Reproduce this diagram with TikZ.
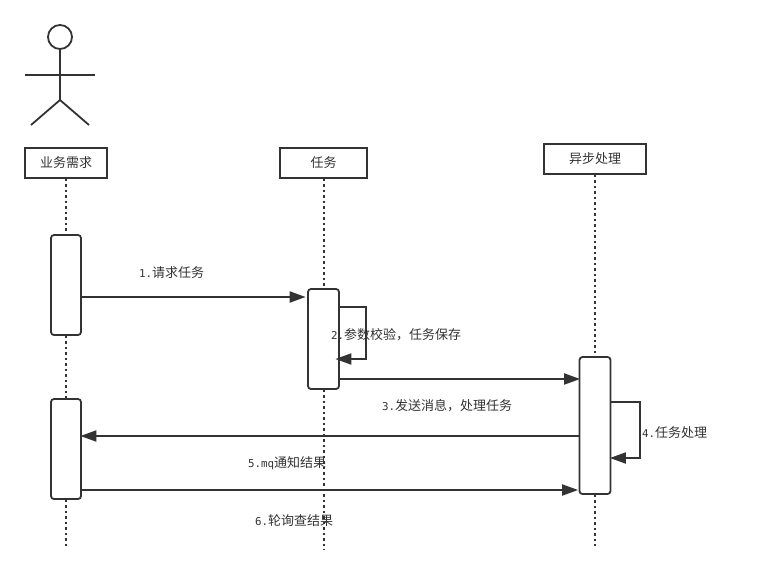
\documentclass[tikz,border=0pt]{standalone}
\usepackage{fontspec}
\setmainfont{DejaVu Sans Mono}
\newfontfamily\cjk{Noto Sans CJK SC}
\usetikzlibrary{arrows.meta}
\definecolor{ink}{HTML}{333333}
\tikzset{
  x=1pt,y=-1pt,
  box/.style={draw=ink,line width=1.8pt,fill=white,inner sep=0pt,minimum height=30pt,text=ink,font=\fontsize{13}{15}\selectfont\cjk},
  act/.style={draw=ink,line width=1.8pt,fill=white,rounded corners=3pt,inner sep=0pt,minimum width=30pt},
  life/.style={draw=ink,line width=2pt,dash pattern=on 2.5pt off 3pt},
  msg/.style={draw=ink,line width=2pt,shorten >=-1.5pt,-{Triangle[length=16pt,width=11pt,fill=ink]}},
  lab/.style={text=ink,inner sep=0pt,font=\fontsize{10.8}{13}\selectfont},
  stick/.style={draw=ink,line width=1.8pt},
}
\newcommand{\zh}[1]{{\fontsize{13}{15}\selectfont\cjk #1}}
\begin{document}
\begin{tikzpicture}
\useasboundingbox[fill=white] (0,0) rectangle (779,575);
% actor
\node[circle,draw=ink,line width=1.8pt,minimum size=24pt,inner sep=0pt] (head) at (60,37) {};
\coordinate (hip) at (60,100);
\coordinate (armL) at (25,75);
\coordinate (armR) at (95,75);
\coordinate (legL) at (31,125);
\coordinate (legR) at (89,125);
\draw[stick] (head.south) -- (hip);
\draw[stick] (armL) -- (armR);
\draw[stick] (legL) -- (hip) -- (legR);
% heads
\node[box,minimum width=82pt] (biz) at (66,163) {业务需求};
\node[box,minimum width=87pt] (task) at (323.5,163) {任务};
\node[box,minimum width=102pt] (async) at (595,159) {异步处理};
% activations
\node[act,minimum height=100pt] (a1) at (66,285) {};
\node[act,minimum height=100pt] (a2) at (66,449) {};
\node[act,minimum width=31pt,minimum height=100pt] (t1) at (323.5,339) {};
\node[act,minimum width=31pt,minimum height=137pt] (p1) at (595,425.5) {};
% lifeline ends
\coordinate (e1) at (66,546);
\coordinate (e2) at (323.5,550);
\coordinate (e3) at (595,546);
\draw[life] (biz) -- (a1);
\draw[life] (a1) -- (a2);
\draw[life] (a2) -- (e1);
\draw[life] (task) -- (t1);
\draw[life] (t1) -- (e2);
\draw[life] (async) -- (p1);
\draw[life] (p1) -- (e3);
% message levels
\coordinate (y1) at (0,297);
\coordinate (y2a) at (0,307);
\coordinate (y2b) at (0,359);
\coordinate (y3) at (0,379);
\coordinate (y4a) at (0,402);
\coordinate (y4b) at (0,458);
\coordinate (y5) at (0,436);
\coordinate (y6) at (0,490);
\coordinate (x2) at (366,0);
\coordinate (x4) at (640,0);
\draw[msg] (y1 -| a1.east) -- ([xshift=-3pt]y1 -| t1.west);
\draw[msg] ([xshift=-2pt]y2a -| t1.east) -- (y2a -| x2) -- (y2b -| x2) -- ([xshift=-3pt]y2b -| t1.east);
\draw[msg] (y3 -| t1.east) -- (y3 -| p1.west);
\draw[msg] (y4a -| p1.east) -- (y4a -| x4) -- (y4b -| x4) -- (y4b -| p1.east);
\draw[msg] (y5 -| p1.west) -- (y5 -| a2.east);
\draw[msg] (y6 -| a2.east) -- ([xshift=-2pt]y6 -| p1.west);
% labels
\node[lab,anchor=west] (l1) at (139,272.5) {1.\zh{请求任务}};
\node[lab,anchor=west] (l2) at (331,334.5) {2.\zh{参数校验，任务保存}};
\node[lab,anchor=west] (l3) at (382,405.5) {3.\zh{发送消息，处理任务}};
\node[lab,anchor=west] (l4) at (642,432.5) {4.\zh{任务处理}};
\node[lab,anchor=west] (l5) at (248,463.5) {5.mq\zh{通知结果}};
\node[lab,anchor=west] (l6) at (255,520.5) {6.\zh{轮询查结果}};
\end{tikzpicture}
\end{document}
